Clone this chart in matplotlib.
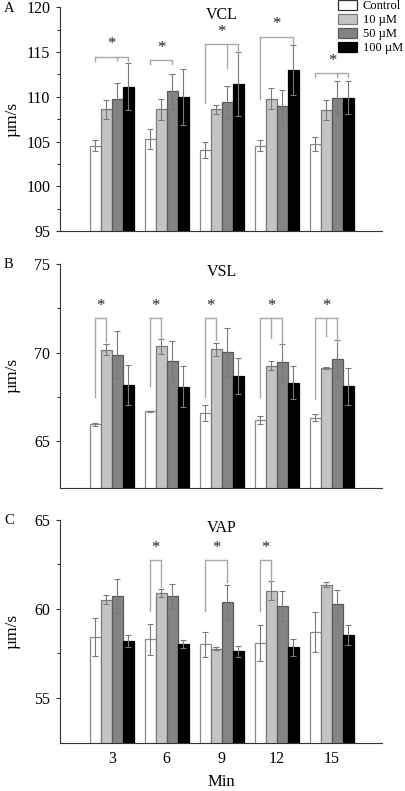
import matplotlib
matplotlib.use("Agg")
import matplotlib.pyplot as plt
import numpy as np
from matplotlib.ticker import FixedLocator
from matplotlib.patches import Patch

plt.rcParams['font.family'] = ['Liberation Serif', 'DejaVu Serif']

# ---------------- data ----------------
minutes = ["3", "6", "9", "12", "15"]
groups = ["Control", "10 \u00b5M", "50 \u00b5M", "100 \u00b5M"]

vcl_control = [104.52, 105.26, 104.07, 104.52, 104.74]
vcl_10 = [108.58, 108.58, 108.60, 109.78, 108.55]
vcl_50 = [109.74, 110.63, 109.37, 108.92, 109.89]
vcl_100 = [111.12, 110.00, 111.42, 113.02, 109.89]
vcl_control_err = [0.60, 1.10, 0.93, 0.60, 0.75]
vcl_10_err = [1.08, 1.17, 0.50, 1.20, 1.10]
vcl_50_err = [1.80, 1.94, 1.80, 1.86, 1.85]
vcl_100_err = [2.65, 3.10, 3.58, 2.80, 1.85]

vsl_control = [65.98, 66.71, 66.61, 66.20, 66.35]
vsl_10 = [70.17, 70.36, 70.19, 69.27, 69.12]
vsl_50 = [69.89, 69.51, 70.04, 69.47, 69.66]
vsl_100 = [68.18, 68.09, 68.67, 68.31, 68.12]
vsl_control_err = [0.08, 0.03, 0.47, 0.24, 0.19]
vsl_10_err = [0.30, 0.43, 0.38, 0.24, 0.06]
vsl_50_err = [1.31, 1.15, 1.33, 1.04, 1.03]
vsl_100_err = [1.13, 1.14, 1.01, 0.92, 1.04]

vap_control = [58.43, 58.30, 58.01, 58.09, 58.71]
vap_10 = [60.52, 60.90, 57.77, 61.03, 61.37]
vap_50 = [60.73, 60.73, 60.37, 60.17, 60.26]
vap_100 = [58.22, 58.01, 57.62, 57.85, 58.52]
vap_control_err = [1.05, 0.86, 0.70, 1.00, 1.12]
vap_10_err = [0.24, 0.24, 0.08, 0.54, 0.15]
vap_50_err = [0.94, 0.70, 0.96, 0.85, 0.80]
vap_100_err = [0.34, 0.22, 0.30, 0.47, 0.56]

# significance brackets: (group index, [(bar index, leg end value)], bracket level, star level)
vcl_sig = [
    (0, [(0, 114.0), (2, 114.1), (3, 114.0)], 114.5, 115.0),
    (1, [(0, 113.7), (2, 113.7)], 114.1, 114.6),
    (2, [(0, 109.3), (2, 113.2), (3, 115.0)], 115.9, 116.4),
    (3, [(0, 109.7), (3, 115.9)], 116.7, 117.2),
    (4, [(0, 112.2), (2, 112.2), (3, 112.2)], 112.65, 113.15),
]
vsl_sig = [
    (0, [(0, 67.5), (1, 70.6)], 71.95, 72.2),
    (1, [(0, 68.1), (1, 70.75)], 71.95, 72.2),
    (2, [(0, 67.5), (1, 70.7)], 71.95, 72.2),
    (3, [(0, 67.5), (1, 70.8), (2, 70.5)], 71.95, 72.2),
    (4, [(0, 67.4), (1, 70.94), (2, 70.6)], 71.95, 72.2),
]
vap_sig = [
    (1, [(0, 59.87), (1, 61.24)], 62.73, 62.98),
    (2, [(0, 59.87), (2, 61.52)], 62.73, 62.98),
    (3, [(0, 59.87), (1, 61.6)], 62.73, 62.98),
]

panels = [
    ("A", "VCL", [vcl_control, vcl_10, vcl_50, vcl_100],
     [vcl_control_err, vcl_10_err, vcl_50_err, vcl_100_err], vcl_sig,
     (95, 120), [95, 100, 105, 110, 115, 120], [97.5, 102.5, 107.5, 112.5, 117.5]),
    ("B", "VSL", [vsl_control, vsl_10, vsl_50, vsl_100],
     [vsl_control_err, vsl_10_err, vsl_50_err, vsl_100_err], vsl_sig,
     (62.4, 75), [65, 70, 75], [67.5, 72.5]),
    ("C", "VAP", [vap_control, vap_10, vap_50, vap_100],
     [vap_control_err, vap_10_err, vap_50_err, vap_100_err], vap_sig,
     (52.47, 65), [55, 60, 65], [57.5, 62.5]),
]

# ---------------- style ----------------
face_colors = ["white", "#c4c4c4", "#848484", "black"]
edge_colors = ["#8a8a8a", "#7a7a7a", "#5a5a5a", "black"]
err_color = "#7a7a7a"
bracket_color = "#a8a8a8"
bar_w = 0.2
offsets = [-0.3, -0.1, 0.1, 0.3]

W, H = 406, 791
fig = plt.figure(figsize=(W / 100, H / 100), dpi=100)

axes_px = [(7.3, 231.0), (263.8, 487.7), (520.0, 743.0)]
x_left, x_right = 60, 382

x = np.arange(len(minutes))
for (letter, title, series, errs, sigs, ylim, majors, minors), (top, bot) in zip(panels, axes_px):
    ax = fig.add_axes([x_left / W, (H - bot) / H, (x_right - x_left) / W, (bot - top) / H])
    for i in range(4):
        ax.bar(x + offsets[i], series[i], width=bar_w, color=face_colors[i],
               edgecolor=edge_colors[i], linewidth=0.9, zorder=2)
        ax.errorbar(x + offsets[i], series[i], yerr=errs[i], fmt='none',
                    ecolor=err_color, elinewidth=0.8, capsize=2.2, capthick=0.8, zorder=3)
    for g, legs, level, star in sigs:
        xs = [g + offsets[b] for b, _ in legs]
        ax.plot([min(xs), max(xs)], [level, level], color=bracket_color, lw=1.0, zorder=4,
                solid_capstyle='butt')
        for b, end in legs:
            ax.plot([g + offsets[b]] * 2, [level, end], color=bracket_color, lw=1.0, zorder=4)
        ax.text((min(xs) + max(xs)) / 2, star, "*", ha='center', va='bottom', fontsize=12,
                color="#222222")
    ax.set_xlim(-0.94, 4.91)
    ax.set_ylim(*ylim)
    ax.yaxis.set_major_locator(FixedLocator(majors))
    ax.yaxis.set_minor_locator(FixedLocator(minors))
    ax.spines['top'].set_visible(False)
    ax.spines['right'].set_visible(False)
    ax.spines['left'].set_color("#333333")
    ax.spines['bottom'].set_color("#333333")
    ax.tick_params(axis='y', which='major', direction='out', length=3, width=0.8,
                   labelsize=11.5, pad=4, color="#333333")
    ax.tick_params(axis='y', which='minor', direction='out', length=2, width=0.8, color="#333333")
    ax.set_xticks(x)
    if letter == "C":
        ax.set_xticklabels(minutes, fontsize=11.5)
        ax.tick_params(axis='x', length=0, pad=6)
        ax.set_xlabel("Min", fontsize=12, labelpad=5)
    else:
        ax.set_xticklabels([])
        ax.tick_params(axis='x', length=0)
    ax.set_ylabel("\u00b5m/s", fontsize=12.5)
    ax.yaxis.set_label_coords(-0.122, 0.5)
    ax.text(2.0, ylim[1], title, ha='center', va='top', fontsize=11.5)
    fig.text(4 / W, 1 - (top + 1) / H, letter, ha='left', va='center', fontsize=10.5)

handles = [Patch(facecolor=face_colors[i], edgecolor=("#333333" if i == 0 else edge_colors[i]),
                 linewidth=0.9) for i in range(4)]
fig.legend(handles, groups, loc='upper left', bbox_to_anchor=(338 / W, 1 - 0 / H),
           frameon=False, fontsize=9, handlelength=1.5, handleheight=0.8,
           handletextpad=0.5, labelspacing=0.15, borderpad=0.0, borderaxespad=0.0)

fig.savefig("out.png", dpi=100)
